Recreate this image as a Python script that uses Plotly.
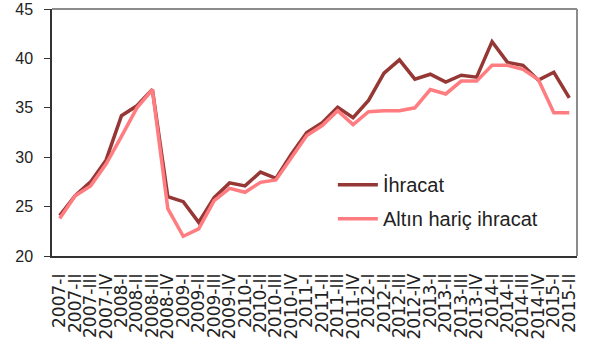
import plotly.graph_objects as go

# Quarterly periods, 2007-I .. 2015-II
quarters = [
    "2007-I", "2007-II", "2007-III", "2007-IV",
    "2008-I", "2008-II", "2008-III", "2008-IV",
    "2009-I", "2009-II", "2009-III", "2009-IV",
    "2010-I", "2010-II", "2010-III", "2010-IV",
    "2011-I", "2011-II", "2011-III", "2011-IV",
    "2012-I", "2012-II", "2012-III", "2012-IV",
    "2013-I", "2013-II", "2013-III", "2013-IV",
    "2014-I", "2014-II", "2014-III", "2014-IV",
    "2015-I", "2015-II",
]

ihracat = [
    24.1, 26.1, 27.5, 29.7, 34.2, 35.2, 36.85, 26.0,
    25.5, 23.4, 25.9, 27.4, 27.1, 28.5, 27.85, 30.3,
    32.5, 33.5, 35.05, 34.0, 35.75, 38.5, 39.85, 37.9,
    38.4, 37.6, 38.3, 38.1, 41.7, 39.6, 39.3, 37.8,
    38.6, 36.0,
]

altin_haric_ihracat = [
    23.8, 26.1, 27.1, 29.3, 32.1, 35.0, 36.85, 24.8,
    22.0, 22.75, 25.6, 26.85, 26.45, 27.45, 27.7, 30.0,
    32.2, 33.2, 34.7, 33.3, 34.6, 34.7, 34.7, 35.0,
    36.85, 36.4, 37.7, 37.7, 39.3, 39.3, 38.9, 37.85,
    34.5, 34.5,
]

y_ticks = [20, 25, 30, 35, 40, 45]

DARK = "#953735"
PINK = "#FF7C80"
AXIS = "#333333"

xpos = list(range(len(quarters)))
# tick marks sit on the boundaries between every second quarter
boundary_ticks = [i - 0.5 for i in range(0, len(quarters) + 1, 2)]

fig = go.Figure()
fig.add_trace(go.Scatter(
    x=xpos, y=ihracat, mode="lines", name="İhracat",
    legendgroup="a",
    line=dict(color=DARK, width=3.5),
))
fig.add_trace(go.Scatter(
    x=xpos, y=altin_haric_ihracat, mode="lines", name="Altın hariç ihracat",
    legendgroup="b",
    line=dict(color=PINK, width=3.5),
))

# Gray frame on the top and right edges of the plotting area
frame = dict(color="#8C8C8C", width=2)
fig.add_shape(type="line", xref="paper", yref="paper", x0=0, x1=1, y0=1, y1=1, line=frame)
fig.add_shape(type="line", xref="paper", yref="paper", x0=1, x1=1, y0=0, y1=1, line=frame)

xrange = [-0.5, len(quarters) - 0.5]

fig.update_layout(
    width=590, height=347,
    margin=dict(l=52, r=13, t=9, b=91, autoexpand=False),
    paper_bgcolor="white",
    plot_bgcolor="white",
    showlegend=True,
    legend=dict(
        x=0.535, y=0.22, xanchor="left", yanchor="middle",
        bgcolor="rgba(0,0,0,0)",
        font=dict(family="Liberation Sans", size=20, color="#222222"),
        traceorder="grouped",
        tracegroupgap=5,
        itemwidth=40,
    ),
    xaxis=dict(
        automargin=False,
        range=xrange,
        tickmode="array",
        tickvals=xpos,
        ticktext=quarters,
        tickangle=-90,
        ticks="",
        showgrid=False,
        zeroline=False,
        showline=True,
        linecolor=AXIS,
        linewidth=1.5,
        tickfont=dict(family="DejaVu Sans", size=17, color="#222222"),
        ticklabelstandoff=9,
    ),
    xaxis2=dict(
        automargin=False,
        overlaying="x",
        anchor="y",
        side="bottom",
        range=xrange,
        tickmode="array",
        tickvals=boundary_ticks,
        ticks="outside",
        ticklen=6,
        tickwidth=1.2,
        tickcolor=AXIS,
        showticklabels=False,
        showgrid=False,
        zeroline=False,
        showline=False,
    ),
    yaxis=dict(
        automargin=False,
        range=[20, 45],
        tickmode="array",
        tickvals=y_ticks,
        ticks="outside",
        ticklen=6,
        tickcolor=AXIS,
        tickwidth=1.2,
        showgrid=False,
        zeroline=False,
        showline=True,
        linecolor=AXIS,
        linewidth=1.5,
        tickfont=dict(family="Liberation Sans", size=16, color="#222222"),
        ticklabelstandoff=8,
        ticklabeloverflow="allow",
    ),
)

fig.write_html("out.html")
